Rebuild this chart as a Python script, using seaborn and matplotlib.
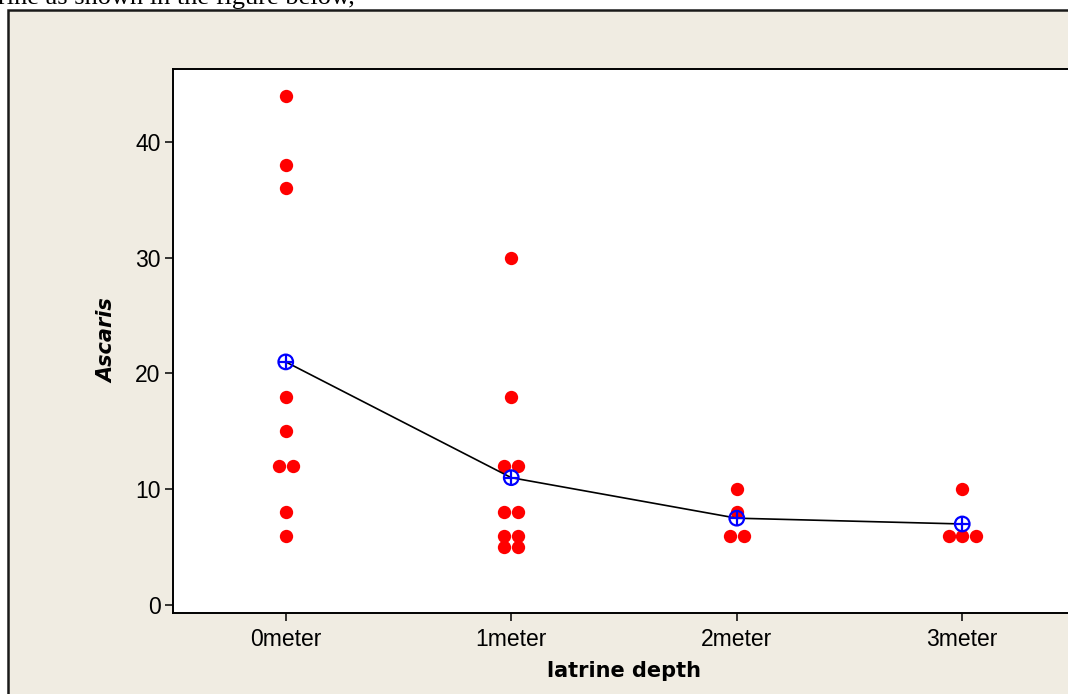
import matplotlib
matplotlib.use("Agg")
import matplotlib.pyplot as plt
import matplotlib.patches as mpatches
import seaborn as sns
import pandas as pd
import numpy as np

# ---- data ----
categories = ["0meter", "1meter", "2meter", "3meter"]
vals_0m = [44, 38, 36, 18, 15, 12, 12, 8, 6]
vals_1m = [30, 18, 12, 12, 8, 8, 6, 6, 5, 5]
vals_2m = [10, 8, 6, 6]
vals_3m = [10, 6, 6, 6]
y_ticks = [0, 10, 20, 30, 40]
x_label = "latrine depth"
y_label = "Ascaris"

df = pd.DataFrame({
    "depth": (["0meter"] * len(vals_0m) + ["1meter"] * len(vals_1m)
              + ["2meter"] * len(vals_2m) + ["3meter"] * len(vals_3m)),
    "ascaris": vals_0m + vals_1m + vals_2m + vals_3m,
})
df["code"] = df["depth"].map({c: i for i, c in enumerate(categories)})
# individual-value-plot style: tied values placed side by side, centred
DOT_STEP = 0.06
df["rank"] = df.groupby(["depth", "ascaris"]).cumcount()
df["ties"] = df.groupby(["depth", "ascaris"])["ascaris"].transform("size")
df["xpos"] = df["code"] + (df["rank"] - (df["ties"] - 1) / 2) * DOT_STEP
means = df.groupby("code", as_index=False)["ascaris"].mean()

W, H = 1068, 694
fig = plt.figure(figsize=(W / 100, H / 100), dpi=100, facecolor="white")

# outer beige frame
frame = mpatches.Rectangle((8 / W, -0.1), 1.2, (H - 10) / H + 0.1,
                           transform=fig.transFigure, facecolor="#F0ECE2",
                           edgecolor="#1a1a1a", linewidth=1.8, zorder=-5)
fig.patches.append(frame)

# clipped document text at top
fig.text(-2 / W, (H - 4) / H, "rine as shown in the figure below,",
         fontsize=19, family="Liberation Serif", va="baseline", ha="left", zorder=-4)

left, right = 173, 1075
top, bottom = 69, 613
ax = fig.add_axes([left / W, 1 - bottom / H, (right - left) / W, (bottom - top) / H])
ax.set_zorder(1)
ax.set_facecolor("white")

sns.scatterplot(data=df, x="xpos", y="ascaris", ax=ax, color="#FF0000",
                s=92, linewidth=0, zorder=2, legend=False)
sns.lineplot(data=means, x="code", y="ascaris", ax=ax, color="black",
             linewidth=1.2, zorder=3, legend=False)
sns.scatterplot(data=means, x="code", y="ascaris", ax=ax, marker="o", s=110,
                facecolor="none", edgecolor="#0000FF", linewidth=1.6, zorder=4,
                legend=False)
sns.scatterplot(data=means, x="code", y="ascaris", ax=ax, marker="+", s=110,
                color="#0000FF", linewidth=1.6, zorder=5, legend=False)

ax.set_xlim(-0.5, 3.5)
ax.set_ylim(-0.69, 46.3)
ax.set_yticks(y_ticks)
ax.set_xticks(range(len(categories)))
ax.set_xticklabels(categories)

for s in ["left", "bottom", "top", "right"]:
    ax.spines[s].set_linewidth(1.4)
    ax.spines[s].set_color("black")

ax.tick_params(axis="both", direction="out", length=6, width=1.1, colors="black",
               labelsize=16.5, pad=3)
ax.tick_params(axis="x", pad=5)
for lab in ax.get_xticklabels() + ax.get_yticklabels():
    lab.set_family("Liberation Sans")
ax.set_xlabel(x_label, fontsize=15, fontweight="bold", family="DejaVu Sans", labelpad=7)
ax.set_ylabel(y_label, fontsize=15, fontweight="bold", fontstyle="italic",
              family="DejaVu Sans", labelpad=13)
ax.grid(False)

fig.savefig("out.png", dpi=100, facecolor=fig.get_facecolor())
